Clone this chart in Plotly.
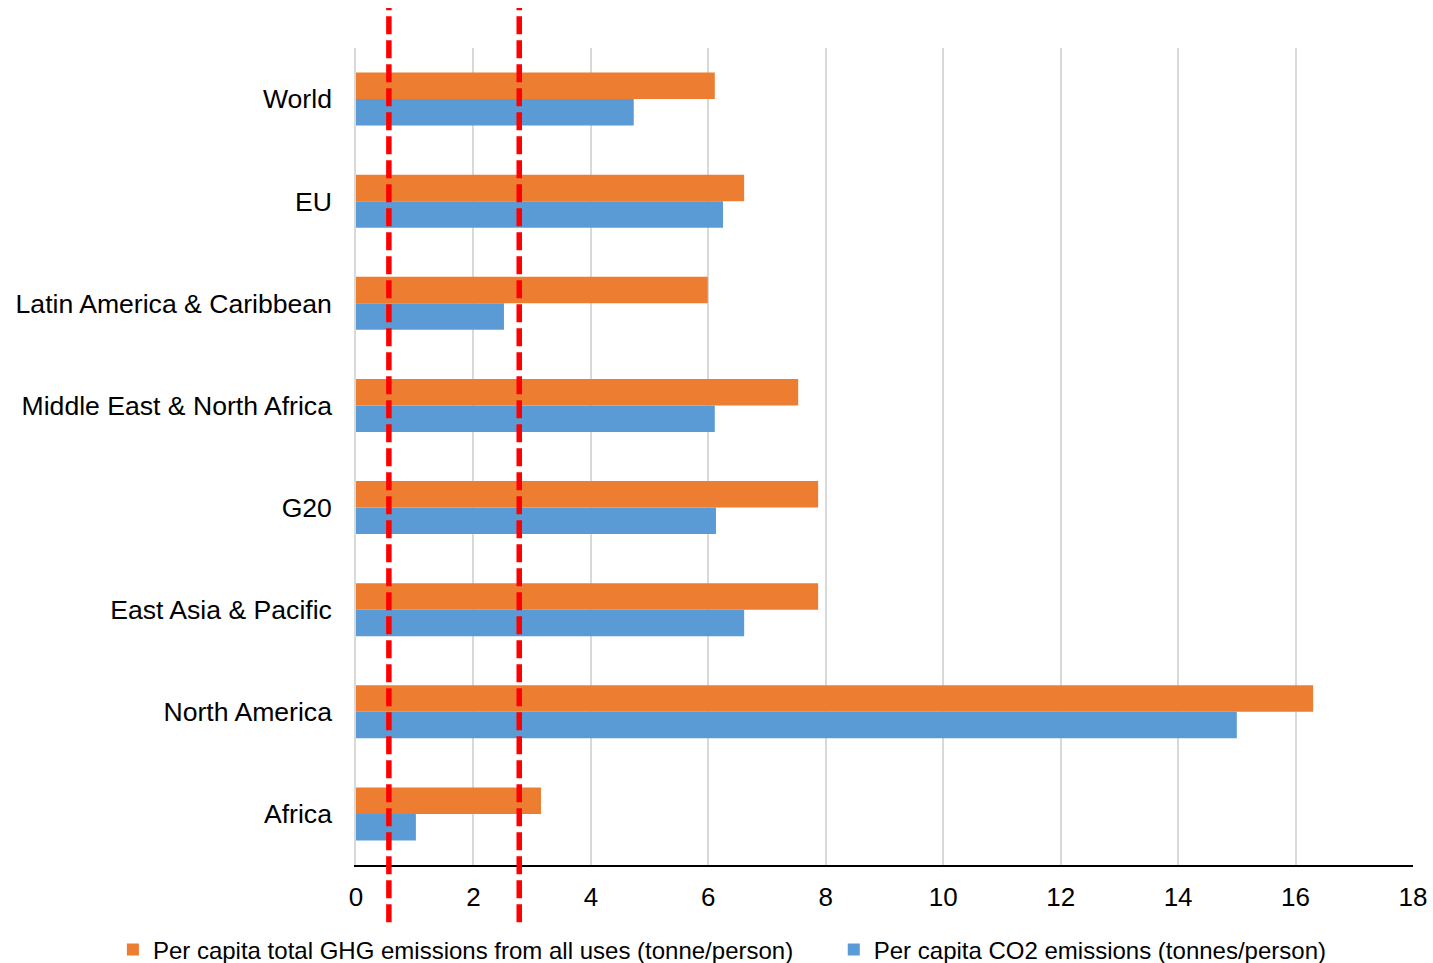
import plotly.graph_objects as go

categories = ["Africa", "North America", "East Asia & Pacific", "G20",
              "Middle East & North Africa", "Latin America & Caribbean", "EU", "World"]
ghg_total = [3.15, 16.3, 7.87, 7.87, 7.53, 5.99, 6.61, 6.11]
co2 = [1.02, 15.0, 6.61, 6.13, 6.11, 2.52, 6.25, 4.73]
ref_lines = [0.56, 2.78]
x_ticks = [0, 2, 4, 6, 8, 10, 12, 14, 16, 18]

font = "Liberation Sans, Arial, sans-serif"

fig = go.Figure()
fig.add_trace(go.Bar(y=categories, x=co2, orientation="h",
                     name="Per capita CO2 emissions (tonnes/person)",
                     marker=dict(color="#5B9BD5", line=dict(width=0)),
                     legend="legend2"))
fig.add_trace(go.Bar(y=categories, x=ghg_total, orientation="h",
                     name="Per capita total GHG emissions from all uses (tonne/person)",
                     marker=dict(color="#ED7D31", line=dict(width=0)),
                     legend="legend"))

for v in ref_lines:
    fig.add_shape(type="line", xref="x", yref="paper", x0=v, x1=v, y0=-0.07, y1=1.049,
                  line=dict(color="#FF0000", width=5.5, dash="18px,6px"), layer="above")

legend_common = dict(orientation="h", yanchor="middle", y=-0.104,
                     font=dict(size=24), itemwidth=30, bgcolor="rgba(0,0,0,0)",
                     borderwidth=0, tracegroupgap=0)

fig.update_layout(
    width=1433, height=963,
    paper_bgcolor="white", plot_bgcolor="white",
    margin=dict(l=356, r=20, t=48, b=98, autoexpand=False),
    barmode="group", bargap=0.48, bargroupgap=0,
    font=dict(family=font, size=26, color="#000000"),
    legend=dict(x=-0.230, xanchor="left", **legend_common),
    legend2=dict(x=0.452, xanchor="left", **legend_common),
    showlegend=True,
)
fig.update_xaxes(range=[0, 18], tickvals=x_ticks, showgrid=True, gridcolor="#D9D9D9",
                 gridwidth=1.5, zeroline=False, showline=True, linecolor="#000000",
                 linewidth=2, ticks="", ticklabelstandoff=8, tickfont=dict(size=26))
fig.update_yaxes(showgrid=False, zeroline=False, showline=True, linecolor="#D9D9D9",
                 linewidth=1.5, ticks="", ticklabelstandoff=17, tickfont=dict(size=26.6))

fig.write_html("out.html")
